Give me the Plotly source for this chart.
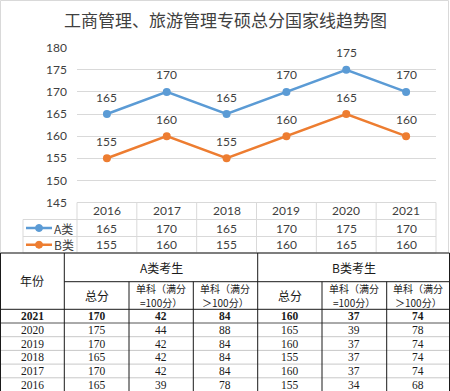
import plotly.graph_objects as go

# ---------------- data ----------------
years = ["2016", "2017", "2018", "2019", "2020", "2021"]
series_names = ["A类", "B类"]
a_total = [165, 170, 165, 170, 175, 170]
b_total = [155, 160, 155, 160, 165, 160]
y_ticks = [145, 150, 155, 160, 165, 170, 175, 180]

title_text = "工商管理、旅游管理专硕总分国家线趋势图"

tbl_years = ["2021", "2020", "2019", "2018", "2017", "2016"]
tbl_a_total = [170, 175, 170, 165, 170, 165]
tbl_a_s100 = [42, 44, 42, 42, 42, 39]
tbl_a_sgt100 = [84, 88, 84, 84, 84, 78]
tbl_b_total = [160, 165, 160, 155, 160, 155]
tbl_b_s100 = [37, 39, 37, 37, 37, 34]
tbl_b_sgt100 = [74, 78, 74, 74, 74, 68]
hdr_year = "年份"
hdr_groups = ["A类考生", "B类考生"]
hdr_sub = [["总分"], ["单科（满分", "=100分）"], ["单科（满分", "＞100分）"]]

# ---------------- layout helpers ----------------
W, H = 450, 391
def X(p):
    return p / W
def Y(p):
    return 1 - p / H

colors = ["#5B9BD5", "#ED7D31"]
num_font = "Lato, Open Sans, sans-serif"
cjk_font = "Noto Sans CJK SC"
serif_font = "Liberation Serif, DejaVu Serif, serif"
txt_col = "#404040"

plot_l, plot_r = 77, 436
plot_top, plot_bot = 47.7, 202.5
n = len(years)

fig = go.Figure()
series = [a_total, b_total]
for name, vals, c in zip(series_names, series, colors):
    fig.add_trace(go.Scatter(
        x=list(range(n)), y=vals, mode="lines+markers", name=name,
        line=dict(color=c, width=2.5), marker=dict(color=c, size=8),
        showlegend=False, hoverinfo="y"))

shapes = []
annotations = []

def ptext(px, py, text, family, size, color, xanchor="center"):
    annotations.append(dict(x=X(px), y=Y(py), xref="paper", yref="paper",
                            text=text, showarrow=False, borderpad=0,
                            xanchor=xanchor, yanchor="middle",
                            font=dict(family=family, size=size, color=color)))

# data labels
for vals in series:
    for i, v in enumerate(vals):
        annotations.append(dict(x=i, y=v, xref="x", yref="y", text=str(v),
                                showarrow=False, yshift=17,
                                xanchor="center", yanchor="middle",
                                font=dict(family=num_font, size=12, color=txt_col)))

# title
ptext(225, 20, title_text, cjk_font, 17, txt_col)

# chart outer frame
shapes.append(dict(type="rect", xref="paper", yref="paper",
                   x0=X(0.5), x1=X(448.5), y0=Y(0.5), y1=Y(253),
                   line=dict(color="#d9d9d9", width=1), layer="below"))

# ---------- data table under chart ----------
grid_c = "#d9d9d9"
cw = (plot_r - plot_l) / n
rows_y = [plot_bot, 219.5, 236.5, 253]
leg_l = 23
for i in range(n + 1):
    xx = plot_l + i * cw
    shapes.append(dict(type="line", xref="paper", yref="paper",
                       x0=X(xx), x1=X(xx), y0=Y(rows_y[0]), y1=Y(rows_y[-1]),
                       line=dict(color=grid_c, width=1)))
shapes.append(dict(type="line", xref="paper", yref="paper",
                   x0=X(leg_l), x1=X(leg_l), y0=Y(rows_y[1]), y1=Y(rows_y[-1]),
                   line=dict(color=grid_c, width=1)))
for j, yy in enumerate(rows_y):
    x0 = plot_l if j == 0 else leg_l
    shapes.append(dict(type="line", xref="paper", yref="paper",
                       x0=X(x0), x1=X(plot_r), y0=Y(yy), y1=Y(yy),
                       line=dict(color=grid_c, width=1)))
for i, yr in enumerate(years):
    cx = plot_l + (i + 0.5) * cw
    ptext(cx, (rows_y[0] + rows_y[1]) / 2, yr, num_font, 12, txt_col)
    for k, vals in enumerate(series):
        cy = (rows_y[k + 1] + rows_y[k + 2]) / 2
        ptext(cx, cy, str(vals[i]), num_font, 12, txt_col)
for k, (name, c) in enumerate(zip(series_names, colors)):
    cy = (rows_y[k + 1] + rows_y[k + 2]) / 2
    shapes.append(dict(type="line", xref="paper", yref="paper",
                       x0=X(26), x1=X(52), y0=Y(cy), y1=Y(cy),
                       line=dict(color=c, width=2.5)))
    r = 3.5
    shapes.append(dict(type="circle", xref="paper", yref="paper",
                       x0=X(39 - r), x1=X(39 + r), y0=Y(cy - r), y1=Y(cy + r),
                       fillcolor=c, line=dict(color=c, width=1)))
    ptext(53, cy, name, cjk_font, 12, txt_col, xanchor="left")

# ---------- bottom table ----------
col_x = [0.5, 64.3, 129, 193.3, 257.7, 322, 386.7, 449.5]
row_h = 13.7
hdr_y = [253, 281.7, 309.3]
data_y = [hdr_y[-1] + i * row_h for i in range(len(tbl_years) + 1)]
dark = "#1a1a1a"
light = "#c8c8c8"

def hline(x0, x1, yy, col, w=1):
    shapes.append(dict(type="line", xref="paper", yref="paper",
                       x0=X(x0), x1=X(x1), y0=Y(yy), y1=Y(yy),
                       line=dict(color=col, width=w)))
def vline(xx, y0, y1, col, w=1):
    shapes.append(dict(type="line", xref="paper", yref="paper",
                       x0=X(xx), x1=X(xx), y0=Y(y0), y1=Y(y1),
                       line=dict(color=col, width=w)))

hline(col_x[0], col_x[-1], hdr_y[0], dark)
hline(col_x[1], col_x[-1], hdr_y[1], dark)
hline(col_x[0], col_x[-1], hdr_y[2], dark)
hline(col_x[0], col_x[-1], data_y[1], "#555555")
for yy in data_y[2:-1]:
    hline(col_x[0], col_x[-1], yy, light)
for i, xx in enumerate(col_x):
    if i in (0, 1, 4, 7):
        vline(xx, hdr_y[0], 391, dark)
    else:
        vline(xx, hdr_y[1], 391, dark)

tcol = "#1a1a1a"
ptext((col_x[0] + col_x[1]) / 2, (hdr_y[0] + hdr_y[2]) / 2 - 1, hdr_year, cjk_font, 12, tcol)
ptext((col_x[1] + col_x[4]) / 2, (hdr_y[0] + hdr_y[1]) / 2, hdr_groups[0], cjk_font, 12, tcol)
ptext((col_x[4] + col_x[7]) / 2, (hdr_y[0] + hdr_y[1]) / 2, hdr_groups[1], cjk_font, 12, tcol)
mid2 = (hdr_y[1] + hdr_y[2]) / 2
for g in range(2):
    for s, lines in enumerate(hdr_sub):
        ci = 1 + g * 3 + s
        cx = (col_x[ci] + col_x[ci + 1]) / 2
        if len(lines) == 1:
            ptext(cx, mid2, lines[0], cjk_font, 12, tcol)
        else:
            ptext(cx, mid2 - 7.2, lines[0], cjk_font, 10, tcol)
            ptext(cx, mid2 + 7.2, lines[1], cjk_font, 10, tcol)

cols = [tbl_years, tbl_a_total, tbl_a_s100, tbl_a_sgt100, tbl_b_total, tbl_b_s100, tbl_b_sgt100]
for ci, col in enumerate(cols):
    cx = (col_x[ci] + col_x[ci + 1]) / 2
    for ri, v in enumerate(col):
        cy = (data_y[ri] + data_y[ri + 1]) / 2
        t = str(v)
        if ri == 0:
            t = "<b>" + t + "</b>"
        ptext(cx, cy, t, serif_font, 11.5, tcol)

fig.update_layout(
    width=W, height=H,
    margin=dict(l=0, r=0, t=0, b=0, pad=0, autoexpand=False),
    paper_bgcolor="white", plot_bgcolor="white",
    xaxis=dict(type="linear", domain=[X(plot_l), X(plot_r)], range=[-0.5, n - 0.5],
               showticklabels=False, showgrid=False, zeroline=False, showline=False,
               fixedrange=True, automargin=False),
    yaxis=dict(domain=[Y(plot_bot), Y(plot_top)], range=[y_ticks[0], y_ticks[-1]],
               tickvals=y_ticks, showgrid=True, gridcolor=grid_c, gridwidth=1,
               zeroline=False, showline=False, ticks="", ticklabelstandoff=9,
               tickfont=dict(family=num_font, size=12, color=txt_col), fixedrange=True,
               automargin=False),
    shapes=shapes, annotations=annotations,
)

fig.write_html("out.html", config={"displayModeBar": False},
               post_script="document.body.style.margin='0';")
